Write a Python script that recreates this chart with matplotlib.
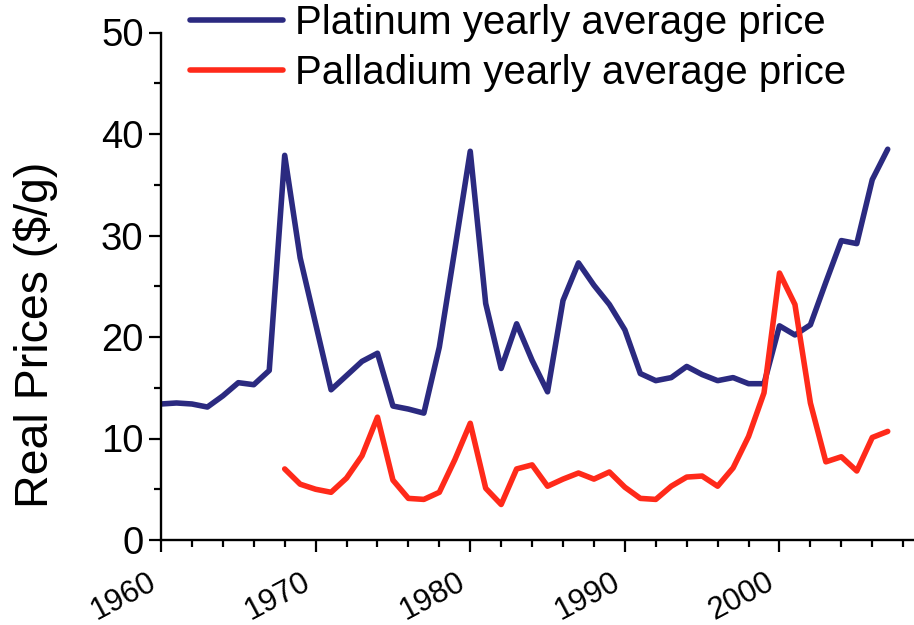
import matplotlib
matplotlib.use("Agg")
import matplotlib.pyplot as plt
from matplotlib.ticker import MultipleLocator

plt.rcParams['font.family'] = ['Liberation Sans', 'DejaVu Sans']

# ---- data ----
pt_start_year = 1960
platinum = [13.4, 13.5, 13.4, 13.1, 14.2, 15.5, 15.3, 16.7, 37.9, 27.8,
            21.3, 14.8, 16.2, 17.6, 18.4, 13.2, 12.9, 12.5, 19.0, 28.6,
            38.3, 23.3, 16.9, 21.3, 17.7, 14.6, 23.6, 27.3, 25.1, 23.2,
            20.7, 16.4, 15.7, 16.0, 17.1, 16.3, 15.7, 16.0, 15.4, 15.4,
            21.1, 20.2, 21.2, 25.4, 29.5, 29.2, 35.5, 38.5]
pd_start_year = 1968
palladium = [7.0, 5.5, 5.0, 4.7, 6.1, 8.3, 12.1, 5.9, 4.1, 4.0, 4.7, 7.9,
             11.5, 5.1, 3.5, 7.0, 7.4, 5.3, 6.0, 6.6, 6.0, 6.7,
             5.2, 4.1, 4.0, 5.3, 6.2, 6.3, 5.3, 7.1, 10.2, 14.5,
             26.3, 23.2, 13.5, 7.7, 8.2, 6.8, 10.1, 10.7]
pt_years = list(range(pt_start_year, pt_start_year + len(platinum)))
pd_years = list(range(pd_start_year, pd_start_year + len(palladium)))
series_labels = ["Platinum yearly average price", "Palladium yearly average price"]
x_ticks = [1960, 1970, 1980, 1990, 2000]
y_ticks = [0, 10, 20, 30, 40, 50]
y_label = "Real Prices ($/g)"

# ---- figure ----
W, H = 914, 625
fig = plt.figure(figsize=(W / 100, H / 100), dpi=100)
left, right, bottom, top = 161.0, 914, 540, 32.5
ax = fig.add_axes([left / W, 1 - bottom / H, (right - left) / W, (bottom - top) / H])

c_pt = "#2B2A80"
c_pd = "#FF2A1A"
ax.plot(pt_years, platinum, color=c_pt, lw=4.0, label=series_labels[0],
        solid_joinstyle='round', solid_capstyle='round')
ax.plot(pd_years, palladium, color=c_pd, lw=4.0, label=series_labels[1],
        solid_joinstyle='round', solid_capstyle='round')

ax.set_xlim(1960, 2008.7)
ax.set_ylim(0, 50)
ax.set_xticks(x_ticks)
ax.set_xticklabels([str(t) for t in x_ticks], rotation=28, ha='right',
                   fontsize=22.5)
ax.xaxis.set_minor_locator(MultipleLocator(2))
ax.set_yticks(y_ticks)
ax.set_yticklabels([str(t) for t in y_ticks], fontsize=27.5)
ax.yaxis.set_minor_locator(MultipleLocator(5))

for s in ['top', 'right']:
    ax.spines[s].set_visible(False)
for s in ['left', 'bottom']:
    ax.spines[s].set_linewidth(1.7)
    ax.spines[s].set_color('black')

ax.tick_params(axis='both', which='major', direction='out', length=8.5, width=1.6,
               color='black')
ax.tick_params(axis='both', which='minor', direction='out', length=5, width=1.6,
               color='black')
ax.tick_params(axis='x', which='major', pad=11)
ax.tick_params(axis='y', which='major', pad=4)

ax.set_ylabel(y_label, fontsize=33.5)
ax.yaxis.set_label_coords(-0.137, 0.404)

leg = fig.legend(loc='upper left', bbox_to_anchor=(190 / W, 1 - 4 / H),
                 bbox_transform=fig.transFigure, frameon=False, fontsize=29,
                 handlelength=2.3, handletextpad=0.3, labelspacing=0.3,
                 borderpad=0.0, borderaxespad=0.0)
for line in leg.get_lines():
    line.set_linewidth(4.0)

fig.savefig("out.png", dpi=100)
